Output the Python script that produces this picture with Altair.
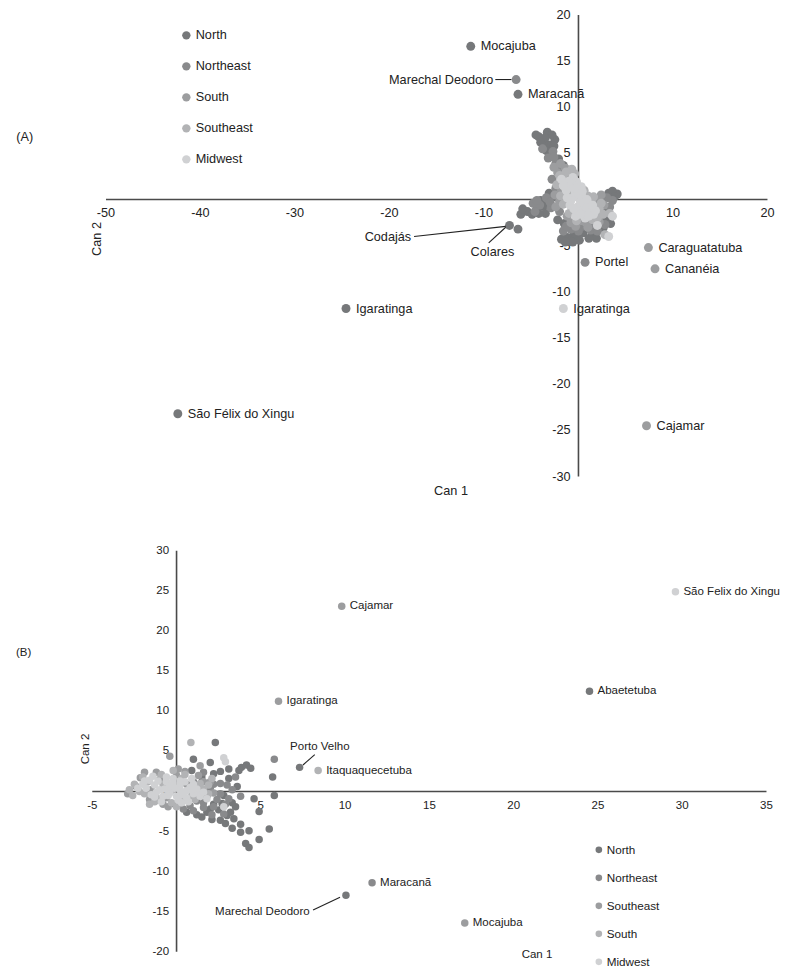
import altair as alt
import pandas as pd

GRAYS = ["#76787a", "#898a8c", "#9c9d9f", "#b2b3b5", "#d0d1d3"]
FONT_A = "Liberation Sans, Arial, sans-serif"
FONT_B = "Liberation Sans, Arial, sans-serif"

# ---------------- Panel (A) data ----------------
A_ORDER = ["North", "Northeast", "South", "Southeast", "Midwest"]
a_north = [(-4.2, 6.8), (-3.3, 7.3), (-2.5, 6.5), (-3.1, 5.9), (-3.7, 6.2), (-3.0, 4.9),
           (-2.1, 4.4), (-1.6, 3.7), (-4.0, -0.1), (-4.4, -1.0), (-5.4, -1.3), (-3.7, -0.7),
           (-3.5, -1.5), (-3.1, 0.7), (-2.6, 0.3), (3.2, 0.7), (4.1, 0.6), (2.6, -1.0),
           (3.1, -1.7), (2.9, -2.4), (2.2, -3.3), (2.6, -3.1), (-0.5, -3.8), (-1.2, -4.1),
           (-0.2, -4.0), (0.5, -3.6), (1.5, -3.8), (-1.8, -4.3), (-0.9, -4.5), (1.0, -3.0),
           (-2.2, -2.2), (-1.5, -2.6), (-6.1, -1.6), (-4.5, 7.0), (-2.8, 7.0), (-3.5, 6.7),
           (-4.0, 6.2), (-3.4, 5.3), (-2.6, 5.8), (-5.9, -1.0), (-4.9, -1.6), (-4.2, -1.5),
           (3.6, 0.9), (3.8, 0.3), (2.8, -2.0), (1.9, -4.2), (1.1, -4.2), (0.1, -4.4),
           (-0.6, -4.6), (-1.4, -4.6), (3.4, -2.6)]
a_northeast = [(-3.8, 5.5), (-2.7, 5.2), (-2.4, 3.9), (-1.9, 3.2), (-1.3, 2.6), (-4.8, -0.4),
               (-4.1, -0.6), (-2.9, -0.9), (-2.0, -1.3), (3.6, -0.1), (2.3, -0.4), (1.9, -2.0),
               (1.6, -2.6), (0.4, -2.9), (-0.8, -3.2), (-1.6, -3.4), (2.4, -1.6), (-2.4, 1.2),
               (-1.2, 1.9), (1.3, -3.3), (-2.8, 2.2), (3.0, 0.2), (-3.2, 4.5), (-2.6, 4.6),
               (-3.4, 0.2), (-3.0, -0.3), (-4.4, -0.1), (3.3, -0.8), (2.0, -3.4), (0.0, -3.4),
               (-1.3, -2.9), (2.8, -2.7), (-4.6, -1.3)]
a_south = [(-2.2, 2.9), (-1.0, 2.4), (-0.6, 1.6), (-1.8, 1.0), (-2.0, -0.2), (-1.2, -1.8),
           (0.2, -2.3), (1.1, -1.4), (1.8, -0.8), (2.0, 0.1), (-0.3, -2.9), (0.8, -2.5),
           (-1.6, 2.0), (-0.9, 3.2), (-2.6, 3.5), (-1.9, 3.9), (-1.4, 3.4), (-2.5, 0.5),
           (-2.4, -0.8), (2.7, -0.6), (2.2, -2.4), (1.0, -3.0), (-0.8, -2.5), (2.4, 0.5)]
a_southeast = [(-1.5, 2.2), (-0.4, 2.8), (0.0, 1.0), (-1.0, 0.6), (-1.6, -0.5), (-0.6, -1.2),
               (0.6, -1.6), (1.4, -0.3), (1.0, 0.4), (0.3, -0.6), (2.2, -1.0), (3.3, -1.5),
               (2.8, -3.8), (1.5, -2.2), (-1.1, 1.4), (-2.0, 2.6), (-2.3, 1.6), (-1.9, 0.4),
               (0.6, 1.0), (1.6, 0.3), (2.4, -0.4), (2.0, -2.0), (-0.2, -2.3), (-1.0, -1.5),
               (2.6, -1.6), (-0.7, 3.3), (-1.3, 3.0)]
a_midwest = [(-0.8, 1.4), (-0.2, 1.9), (0.3, 1.4), (-1.2, 0.2), (-0.5, 0.3), (0.4, 0.3),
             (1.0, -0.4), (-0.9, -0.6), (-0.1, -0.8), (0.5, -1.2), (1.2, -1.0), (-0.3, -1.8),
             (0.7, -2.0), (1.6, -1.6), (3.6, -1.8), (3.2, -4.0), (2.0, -2.8), (-0.6, 2.4),
             (0.2, -0.2), (-1.8, 2.2), (-1.4, 1.8), (-1.0, 2.0), (-0.4, 1.0), (0.0, 0.6),
             (0.6, -0.4), (0.9, -0.9), (1.4, -1.3), (1.8, -1.2), (0.0, -1.3), (-0.5, -1.0),
             (0.9, 0.0), (1.5, -0.6), (-1.3, 1.0), (-0.2, 1.2), (0.4, 0.9), (0.2, -1.6),
             (1.1, -1.8), (-0.8, -0.1), (-1.6, 1.5)]

a_lab_name = ["Mocajuba", "Marechal Deodoro", "Maracanã", "Codajás", "Colares", "Portel",
              "Caraguatatuba", "Cananéia", "Igaratinga", "Igaratinga", "São Félix do Xingu", "Cajamar"]
a_lab_region = ["North", "Northeast", "North", "North", "North", "Northeast",
                "South", "South", "Midwest", "North", "North", "South"]
a_lab_x = [-11.4, -6.6, -6.4, -7.3, -6.4, 0.7, 7.4, 8.1, -1.6, -24.6, -42.4, 7.2]
a_lab_y = [16.6, 13.0, 11.4, -2.8, -3.2, -6.8, -5.2, -7.5, -11.8, -11.8, -23.2, -24.5]
a_lab_side = ["right", "note", "right", "note", "note", "right",
              "right", "right", "right", "right", "right", "right"]

# labels placed away from their points, with leader lines
a_note_name = ["Marechal Deodoro", "Codajás", "Colares"]
a_note_x = [-9.0, -17.7, -9.1]
a_note_y = [13.0, -4.1, -5.7]
a_note_align = ["right", "right", "center"]
a_lead_x1 = [-8.8, -17.4, -9.5]
a_lead_y1 = [13.0, -4.0, -4.7]
a_lead_x2 = [-7.1, -7.7, -7.7]
a_lead_y2 = [13.0, -2.9, -3.0]

a_xticks = [-50, -40, -30, -20, -10, 0, 10, 20]
a_yticks = [20, 15, 10, 5, 0, -5, -10, -15, -20, -25, -30]

# ---------------- Panel (B) data ----------------
B_ORDER = ["North", "Northeast", "Southeast", "South", "Midwest"]
b_north = [(2.3, 6.1), (1.0, 4.0), (2.0, 3.6), (3.85, 3.0), (4.15, 3.3), (4.4, 2.9), (5.7, 1.8),
           (5.8, -0.5), (3.1, 1.6), (3.6, 0.6), (4.6, -0.9), (3.5, -1.9), (4.9, -2.5), (3.8, -4.1),
           (4.3, -4.9), (4.9, -6.0), (5.5, -4.7), (3.8, -5.1), (4.1, -6.5), (4.3, -7.0), (2.5, -2.3),
           (3.0, -3.0), (2.2, -1.6), (1.8, -2.6), (2.8, -0.5), (1.5, 1.8), (2.6, 2.5), (3.2, -2.6),
           (2.6, -3.6), (1.2, -2.9), (0.6, -2.6), (3.4, -3.4), (2.0, -2.2), (2.7, -1.5),
           (3.3, -1.4), (1.5, -3.2), (2.1, -3.5), (2.9, -4.0), (3.3, -4.6), (0.9, 2.6),
           (2.2, 2.2), (3.1, 2.8), (3.7, 2.6)]
b_northeast = [(5.8, 4.0), (3.5, 1.8), (3.8, -0.6), (2.0, 0.4), (1.2, -1.2), (2.4, -1.0),
               (1.6, -2.0), (0.8, -1.8), (1.0, 1.2), (2.6, 1.0), (1.8, -0.6), (3.0, 0.8),
               (0.4, -2.2), (2.9, -1.6), (2.1, -2.9), (-0.1, -1.6), (1.6, 2.4), (1.6, -1.4),
               (2.2, -1.9), (2.6, -0.3), (3.1, -0.9), (1.0, -2.4), (2.8, -2.8), (3.3, 0.2),
               (2.2, 0.9), (1.3, -0.4)]
b_southeast = [(-0.4, 4.4), (1.4, 3.2), (-2.4, 0.6), (-2.15, 1.7), (0.5, 2.5), (-1.0, 1.5),
               (-1.5, 0.2), (0.2, -1.5), (1.1, 0.5), (0.0, 2.0), (-0.6, -0.8), (1.6, 1.2),
               (-1.2, 2.4), (0.6, 0.9), (-0.5, -1.9), (2.2, -0.2), (-2.9, -0.3), (-1.6, -1.0),
               (-0.8, -1.6), (1.3, 2.0), (2.0, 1.2), (0.1, 2.8), (-1.9, 2.4)]
b_south = [(0.85, 6.1), (-1.7, 1.2), (-0.8, 0.9), (-1.9, -0.3), (0.3, 1.6), (-0.3, 0.1),
           (0.9, -0.5), (1.6, 0.3), (-1.1, -0.9), (0.4, -0.9), (2.1, 1.6), (-0.2, 2.6), (-2.8, 0.2),
           (-2.2, 0.0), (-2.5, 0.9), (-1.3, -1.3), (-0.3, -1.4), (1.1, -1.0), (1.9, 0.8),
           (-0.9, 2.1), (0.5, 2.1), (1.4, 1.0), (-2.0, 1.8), (-2.6, -0.5), (-1.6, -1.6),
           (0.0, -1.9), (1.9, -0.3)]
b_midwest = [(2.8, 4.2), (2.9, 3.7), (2.8, -1.9), (-1.3, 0.8), (-0.6, 1.2), (0.2, 0.7),
             (-1.5, -0.4), (-0.4, -0.2), (0.6, 0.1), (1.3, -0.2), (-0.9, -1.3), (0.1, -1.1),
             (1.0, 0.9), (-0.2, 1.6), (0.7, -1.3), (1.8, -0.9), (-1.8, 0.4), (0.3, -0.4),
             (-1.6, 1.4), (-1.0, 0.2), (-0.4, 0.6), (0.2, 0.2), (0.8, 0.5), (1.2, 0.3),
             (-0.8, -0.6), (0.0, -0.6), (0.6, -0.8), (-1.2, -0.1), (-0.2, 1.0), (0.5, 1.2),
             (1.4, -0.6), (-2.0, 0.9), (-0.6, 1.8), (0.9, 1.6), (-1.4, 1.9), (0.3, -1.4),
             (-1.9, 1.3), (-1.1, 1.3), (-0.1, 0.4), (0.4, -0.1), (1.0, -0.3), (-0.7, 0.3),
             (-1.3, -0.7), (0.9, 0.2), (-0.5, -0.5), (0.2, 1.3), (1.6, -0.1), (-2.3, 0.4)]

b_lab_name = ["Cajamar", "São Felix do Xingu", "Abaetetuba", "Igaratinga", "Porto Velho",
              "Itaquaquecetuba", "Maracanã", "Marechal Deodoro", "Mocajuba"]
b_lab_region = ["Southeast", "Midwest", "North", "Southeast", "North",
                "South", "Northeast", "North", "Southeast"]
b_lab_x = [9.8, 29.6, 24.5, 6.05, 7.3, 8.4, 11.6, 10.05, 17.1]
b_lab_y = [23.1, 24.9, 12.5, 11.25, 3.0, 2.6, -11.4, -12.95, -16.4]
b_lab_side = ["right", "right", "right", "right", "note", "right", "right", "note", "right"]

b_note_name = ["Porto Velho", "Marechal Deodoro"]
b_note_x = [8.5, 7.9]
b_note_y = [5.6, -15.0]
b_note_align = ["center", "right"]
b_lead_x1 = [8.2, 8.1]
b_lead_y1 = [4.6, -14.8]
b_lead_x2 = [7.5, 9.7]
b_lead_y2 = [3.3, -13.2]

b_xticks = [-5, 0, 5, 10, 15, 20, 25, 30, 35]
b_yticks = [30, 25, 20, 15, 10, 5, 0, -5, -10, -15, -20]


def points_df(groups, lab_name, lab_region, lab_x, lab_y):
    rows = []
    for region, pts in groups:
        for x, y in pts:
            rows.append({"region": region, "x": x, "y": y})
        for n, r, x, y in zip(lab_name, lab_region, lab_x, lab_y):
            if r == region:
                rows.append({"region": region, "x": x, "y": y})
    return pd.DataFrame(rows)


def panel(groups, order, lab_name, lab_region, lab_x, lab_y, lab_side,
          note_name, note_x, note_y, note_align, lx1, ly1, lx2, ly2,
          xticks, yticks, xdom, ydom, width, height, size, font, fs,
          lab_dx, xdy, ydx, legend, annotations):
    xs = alt.Scale(domain=xdom, nice=False, zero=False)
    ys = alt.Scale(domain=ydom, nice=False, zero=False)

    def X(f):
        return alt.X(f, type="quantitative", scale=xs, axis=None)

    def Y(f):
        return alt.Y(f, type="quantitative", scale=ys, axis=None)

    axes_df = pd.DataFrame({"x": [xticks[0], 0], "x2": [xticks[-1], 0],
                            "y": [0, min(yticks)], "y2": [0, max(yticks)]})
    axes = alt.Chart(axes_df).mark_rule(color="#4a4a4a", strokeWidth=1.6).encode(
        x=X("x"), x2=alt.X2("x2"), y=Y("y"), y2=alt.Y2("y2"))

    xt_df = pd.DataFrame({"v": xticks, "z": [0] * len(xticks), "t": [str(v) for v in xticks]})
    yt_df = pd.DataFrame({"v": yticks, "z": [0] * len(yticks), "t": [str(v) for v in yticks]})
    xt = alt.Chart(xt_df).mark_text(dy=xdy, font=font, fontSize=fs, color="#222",
                                    baseline="middle").encode(x=X("v"), y=Y("z"), text="t:N")
    yt = alt.Chart(yt_df).mark_text(dx=ydx, align="right", font=font, fontSize=fs, color="#222",
                                    baseline="middle").encode(x=X("z"), y=Y("v"), text="t:N")

    pdf = points_df(groups, lab_name, lab_region, lab_x, lab_y)
    pts = alt.Chart(pdf).mark_circle(size=size, opacity=1).encode(
        x=X("x"), y=Y("y"),
        color=alt.Color("region:N", scale=alt.Scale(domain=order, range=GRAYS), legend=legend))

    lab_df = pd.DataFrame({"name": lab_name, "x": lab_x, "y": lab_y, "side": lab_side})
    lab_df = lab_df[lab_df["side"] == "right"]
    labs = alt.Chart(lab_df).mark_text(align="left", dx=lab_dx, baseline="middle", font=font,
                                       fontSize=fs, color="#222").encode(
        x=X("x"), y=Y("y"), text="name:N")

    lead_df = pd.DataFrame({"x1": lx1, "y1": ly1, "x2": lx2, "y2": ly2})
    leads = alt.Chart(lead_df).mark_rule(color="#222", strokeWidth=1.1).encode(
        x=X("x1"), y=Y("y1"), x2=alt.X2("x2"), y2=alt.Y2("y2"))

    note_df = pd.DataFrame({"name": note_name, "x": note_x, "y": note_y, "align": note_align})
    note_layers = []
    for al in ["left", "center", "right"]:
        sub = note_df[note_df["align"] == al]
        if len(sub):
            note_layers.append(alt.Chart(sub).mark_text(align=al, baseline="middle", font=font,
                                                        fontSize=fs, color="#222").encode(
                x=X("x"), y=Y("y"), text="name:N"))

    ann_layers = []
    for text, px, py, ang in annotations:
        kw = dict(font=font, fontSize=fs, color="#222", baseline="middle", align="center")
        if ang:
            kw["angle"] = ang
        ann_layers.append(alt.Chart(pd.DataFrame({"t": [text]})).mark_text(**kw).encode(
            x=alt.value(px), y=alt.value(py), text="t:N"))

    return alt.layer(axes, xt, yt, pts, leads, labs, *note_layers, *ann_layers).properties(
        width=width, height=height)


legend_a = alt.Legend(orient="none", legendX=172, legendY=20, title=None, symbolType="circle",
                      symbolSize=70, symbolStrokeWidth=0, labelFont=FONT_A, labelFontSize=12.7,
                      labelColor="#222", labelOffset=3, rowPadding=17, padding=0)
legend_b = alt.Legend(orient="none", legendX=585, legendY=343, title=None, symbolType="circle",
                      symbolSize=44, symbolStrokeWidth=0, labelFont=FONT_B, labelFontSize=11.7,
                      labelColor="#222", labelOffset=2, rowPadding=15, padding=0)

chart_a = panel([("North", a_north), ("Northeast", a_northeast), ("South", a_south),
                 ("Southeast", a_southeast), ("Midwest", a_midwest)], A_ORDER,
                a_lab_name, a_lab_region, a_lab_x, a_lab_y, a_lab_side,
                a_note_name, a_note_x, a_note_y, a_note_align,
                a_lead_x1, a_lead_y1, a_lead_x2, a_lead_y2,
                a_xticks, a_yticks, [-60.37, 21.75], [-32.43, 20.64], 776, 490, 80,
                FONT_A, 12.7, 10, 13.7, -7.8, legend_a,
                [("(A)", 16.7, 128.4, 0), ("Can 1", 443, 482, 0), ("Can 2", 89, 230, 270)])

chart_b = panel([("North", b_north), ("Northeast", b_northeast), ("Southeast", b_southeast),
                 ("South", b_south), ("Midwest", b_midwest)], B_ORDER,
                b_lab_name, b_lab_region, b_lab_x, b_lab_y, b_lab_side,
                b_note_name, b_note_x, b_note_y, b_note_align,
                b_lead_x1, b_lead_y1, b_lead_x2, b_lead_y2,
                b_xticks, b_yticks, [-10.0, 36.04], [-22.52, 36.22], 776, 471, 56,
                FONT_B, 11.5, 8, 14.7, -7.5, legend_b,
                [("(B)", 15.7, 151.9, 0), ("Can 1", 529, 453.7, 0), ("Can 2", 78.4, 248, 270)])

chart = alt.vconcat(chart_a, chart_b, spacing=2, bounds="flush").resolve_scale(
    color="independent", x="independent", y="independent").properties(
    padding=0).configure_view(stroke=None)

chart.save("out.html", embed_options={"renderer": "svg", "actions": False})
